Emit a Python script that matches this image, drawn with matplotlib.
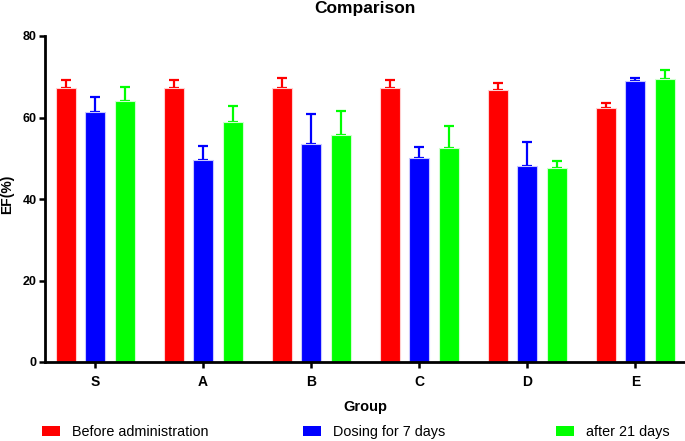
import matplotlib
matplotlib.use("Agg")
import matplotlib.pyplot as plt
import numpy as np
from matplotlib.patches import Patch

plt.rcParams['font.family'] = ['Liberation Sans', 'Noto Sans CJK SC', 'DejaVu Sans']

groups = ["S", "A", "B", "C", "D", "E"]
series_names = ["Before administration", "Dosing for 7 days", "after 21 days"]
before = [67.2, 67.3, 67.3, 67.3, 66.8, 62.4]
before_err = [2.0, 2.0, 2.3, 2.0, 1.7, 1.2]
dosing7 = [61.4, 49.5, 53.6, 50.1, 48.1, 69.0]
dosing7_err = [3.6, 3.5, 7.3, 2.6, 6.0, 0.8]
after21 = [64.0, 58.8, 55.6, 52.4, 47.7, 69.4]
after21_err = [3.5, 3.9, 5.9, 5.4, 1.6, 2.3]
colors = ["#ff0000", "#0000ff", "#00ff00"]
edges = ["#ffd0d0", "#c8c8ff", "#d0ffd0"]
yticks = [0, 20, 40, 60, 80]

W, H = 685, 441
fig = plt.figure(figsize=(6.85, 4.41), dpi=100)
ax = fig.add_axes([45 / W, 1 - 362 / H, 1 - 45 / W, (362 - 36) / H])

x = np.arange(len(groups))
off = 0.273
w = 0.185
data = [(before, before_err), (dosing7, dosing7_err), (after21, after21_err)]
for i, ((vals, errs), c, ec) in enumerate(zip(data, colors, edges)):
    pos = x + (i - 1) * off
    ax.bar(pos, vals, width=w, color=c, edgecolor=ec, linewidth=0.8, zorder=2)
    ax.errorbar(pos, vals, yerr=[np.zeros(len(errs)), errs], fmt="none", ecolor=c,
                elinewidth=1.6, capsize=3.8, capthick=1.6, zorder=1)

ax.set_xlim(-0.463, 5.46)
ax.set_ylim(0, 80)
ax.set_xticks(x)
ax.set_xticklabels(groups, fontsize=10, fontweight="bold")
ax.set_yticks(yticks)
ax.set_yticklabels([str(t) for t in yticks], fontsize=9, fontweight="bold")
for s in ["top", "right"]:
    ax.spines[s].set_visible(False)
for s in ["left", "bottom"]:
    ax.spines[s].set_linewidth(2.0)
ax.tick_params(axis="both", width=1.8, length=4.5, direction="out")
ax.tick_params(axis="y", pad=1.5)
ax.tick_params(axis="x", pad=4.5)

ax.set_xlabel("Group", fontsize=10.5, fontweight="bold", labelpad=8)
fig.text(7 / W, 1 - 194 / H, "EF(%)", rotation=90, ha="center", va="center",
         fontsize=10, fontweight="bold")
fig.text(365 / W, 1 - 9 / H, "Comparison", ha="center", va="center", fontsize=12.5, fontweight="bold")

lx = [41.5 / W, 303 / W, 556 / W]
for name, c, px in zip(series_names, colors, lx):
    fig.legend(handles=[Patch(facecolor=c, edgecolor="none")], labels=[name],
               loc="center left", bbox_to_anchor=(px, 1 - 432 / H), frameon=False,
               fontsize=10.4, handlelength=1.28, handleheight=0.65, handletextpad=0.83,
               borderpad=0, borderaxespad=0)

fig.savefig("out.png", dpi=100)
